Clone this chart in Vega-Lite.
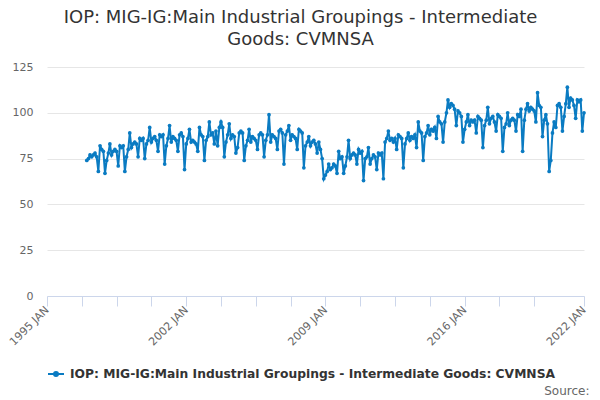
{
  "$schema": "https://vega.github.io/schema/vega-lite/v6.json",
  "width": 537,
  "height": 229,
  "autosize": "none",
  "padding": {"left": 47, "top": 67, "right": 16, "bottom": 104},
  "background": "white",
  "title": {
    "text": ["IOP: MIG-IG:Main Industrial Groupings - Intermediate", "Goods: CVMNSA"],
    "anchor": "middle",
    "dx": -15,
    "offset": 12,
    "fontSize": 18,
    "fontWeight": "normal",
    "color": "#333333",
    "lineHeight": 22
  },
  "data": {
    "values": [
      {"d": "1997-01", "v": 74}, {"d": "1997-02", "v": 75}, {"d": "1997-03", "v": 77}, {"d": "1997-04", "v": 76}, {"d": "1997-05", "v": 77}, {"d": "1997-06", "v": 78}, {"d": "1997-07", "v": 76}, {"d": "1997-08", "v": 68}, {"d": "1997-09", "v": 82}, {"d": "1997-10", "v": 80}, {"d": "1997-11", "v": 79}, {"d": "1997-12", "v": 67},
      {"d": "1998-01", "v": 74}, {"d": "1998-02", "v": 78}, {"d": "1998-03", "v": 83}, {"d": "1998-04", "v": 77}, {"d": "1998-05", "v": 79}, {"d": "1998-06", "v": 80}, {"d": "1998-07", "v": 79}, {"d": "1998-08", "v": 71}, {"d": "1998-09", "v": 82}, {"d": "1998-10", "v": 81}, {"d": "1998-11", "v": 82}, {"d": "1998-12", "v": 68},
      {"d": "1999-01", "v": 76}, {"d": "1999-02", "v": 80}, {"d": "1999-03", "v": 89}, {"d": "1999-04", "v": 81}, {"d": "1999-05", "v": 83}, {"d": "1999-06", "v": 84}, {"d": "1999-07", "v": 83}, {"d": "1999-08", "v": 76}, {"d": "1999-09", "v": 86}, {"d": "1999-10", "v": 85}, {"d": "1999-11", "v": 86}, {"d": "1999-12", "v": 75},
      {"d": "2000-01", "v": 83}, {"d": "2000-02", "v": 85}, {"d": "2000-03", "v": 92}, {"d": "2000-04", "v": 84}, {"d": "2000-05", "v": 86}, {"d": "2000-06", "v": 87}, {"d": "2000-07", "v": 85}, {"d": "2000-08", "v": 79}, {"d": "2000-09", "v": 88}, {"d": "2000-10", "v": 87}, {"d": "2000-11", "v": 88}, {"d": "2000-12", "v": 72},
      {"d": "2001-01", "v": 82}, {"d": "2001-02", "v": 86}, {"d": "2001-03", "v": 93}, {"d": "2001-04", "v": 84}, {"d": "2001-05", "v": 87}, {"d": "2001-06", "v": 86}, {"d": "2001-07", "v": 85}, {"d": "2001-08", "v": 79}, {"d": "2001-09", "v": 88}, {"d": "2001-10", "v": 89}, {"d": "2001-11", "v": 87}, {"d": "2001-12", "v": 69},
      {"d": "2002-01", "v": 83}, {"d": "2002-02", "v": 86}, {"d": "2002-03", "v": 91}, {"d": "2002-04", "v": 84}, {"d": "2002-05", "v": 85}, {"d": "2002-06", "v": 84}, {"d": "2002-07", "v": 83}, {"d": "2002-08", "v": 79}, {"d": "2002-09", "v": 92}, {"d": "2002-10", "v": 88}, {"d": "2002-11", "v": 87}, {"d": "2002-12", "v": 74},
      {"d": "2003-01", "v": 85}, {"d": "2003-02", "v": 87}, {"d": "2003-03", "v": 95}, {"d": "2003-04", "v": 88}, {"d": "2003-05", "v": 89}, {"d": "2003-06", "v": 83}, {"d": "2003-07", "v": 90}, {"d": "2003-08", "v": 82}, {"d": "2003-09", "v": 92}, {"d": "2003-10", "v": 95}, {"d": "2003-11", "v": 92}, {"d": "2003-12", "v": 76},
      {"d": "2004-01", "v": 84}, {"d": "2004-02", "v": 88}, {"d": "2004-03", "v": 94}, {"d": "2004-04", "v": 86}, {"d": "2004-05", "v": 88}, {"d": "2004-06", "v": 87}, {"d": "2004-07", "v": 78}, {"d": "2004-08", "v": 81}, {"d": "2004-09", "v": 89}, {"d": "2004-10", "v": 90}, {"d": "2004-11", "v": 89}, {"d": "2004-12", "v": 74},
      {"d": "2005-01", "v": 82}, {"d": "2005-02", "v": 85}, {"d": "2005-03", "v": 91}, {"d": "2005-04", "v": 84}, {"d": "2005-05", "v": 87}, {"d": "2005-06", "v": 86}, {"d": "2005-07", "v": 85}, {"d": "2005-08", "v": 80}, {"d": "2005-09", "v": 88}, {"d": "2005-10", "v": 89}, {"d": "2005-11", "v": 88}, {"d": "2005-12", "v": 76},
      {"d": "2006-01", "v": 85}, {"d": "2006-02", "v": 88}, {"d": "2006-03", "v": 99}, {"d": "2006-04", "v": 84}, {"d": "2006-05", "v": 88}, {"d": "2006-06", "v": 87}, {"d": "2006-07", "v": 86}, {"d": "2006-08", "v": 80}, {"d": "2006-09", "v": 90}, {"d": "2006-10", "v": 91}, {"d": "2006-11", "v": 89}, {"d": "2006-12", "v": 72},
      {"d": "2007-01", "v": 88}, {"d": "2007-02", "v": 90}, {"d": "2007-03", "v": 93}, {"d": "2007-04", "v": 85}, {"d": "2007-05", "v": 88}, {"d": "2007-06", "v": 87}, {"d": "2007-07", "v": 86}, {"d": "2007-08", "v": 80}, {"d": "2007-09", "v": 91}, {"d": "2007-10", "v": 90}, {"d": "2007-11", "v": 89}, {"d": "2007-12", "v": 70},
      {"d": "2008-01", "v": 82}, {"d": "2008-02", "v": 84}, {"d": "2008-03", "v": 87}, {"d": "2008-04", "v": 82}, {"d": "2008-05", "v": 84}, {"d": "2008-06", "v": 85}, {"d": "2008-07", "v": 83}, {"d": "2008-08", "v": 78}, {"d": "2008-09", "v": 84}, {"d": "2008-10", "v": 80}, {"d": "2008-11", "v": 75}, {"d": "2008-12", "v": 64},
      {"d": "2009-01", "v": 66}, {"d": "2009-02", "v": 68}, {"d": "2009-03", "v": 72}, {"d": "2009-04", "v": 69}, {"d": "2009-05", "v": 70}, {"d": "2009-06", "v": 72}, {"d": "2009-07", "v": 71}, {"d": "2009-08", "v": 67}, {"d": "2009-09", "v": 79}, {"d": "2009-10", "v": 75}, {"d": "2009-11", "v": 76}, {"d": "2009-12", "v": 67},
      {"d": "2010-01", "v": 71}, {"d": "2010-02", "v": 76}, {"d": "2010-03", "v": 85}, {"d": "2010-04", "v": 75}, {"d": "2010-05", "v": 77}, {"d": "2010-06", "v": 78}, {"d": "2010-07", "v": 77}, {"d": "2010-08", "v": 72}, {"d": "2010-09", "v": 80}, {"d": "2010-10", "v": 78}, {"d": "2010-11", "v": 79}, {"d": "2010-12", "v": 63},
      {"d": "2011-01", "v": 75}, {"d": "2011-02", "v": 76}, {"d": "2011-03", "v": 81}, {"d": "2011-04", "v": 72}, {"d": "2011-05", "v": 75}, {"d": "2011-06", "v": 77}, {"d": "2011-07", "v": 76}, {"d": "2011-08", "v": 69}, {"d": "2011-09", "v": 78}, {"d": "2011-10", "v": 77}, {"d": "2011-11", "v": 78}, {"d": "2011-12", "v": 64},
      {"d": "2012-01", "v": 84}, {"d": "2012-02", "v": 86}, {"d": "2012-03", "v": 90}, {"d": "2012-04", "v": 85}, {"d": "2012-05", "v": 86}, {"d": "2012-06", "v": 84}, {"d": "2012-07", "v": 86}, {"d": "2012-08", "v": 80}, {"d": "2012-09", "v": 88}, {"d": "2012-10", "v": 87}, {"d": "2012-11", "v": 86}, {"d": "2012-12", "v": 70},
      {"d": "2013-01", "v": 83}, {"d": "2013-02", "v": 86}, {"d": "2013-03", "v": 89}, {"d": "2013-04", "v": 85}, {"d": "2013-05", "v": 87}, {"d": "2013-06", "v": 86}, {"d": "2013-07", "v": 88}, {"d": "2013-08", "v": 81}, {"d": "2013-09", "v": 95}, {"d": "2013-10", "v": 90}, {"d": "2013-11", "v": 89}, {"d": "2013-12", "v": 74},
      {"d": "2014-01", "v": 87}, {"d": "2014-02", "v": 89}, {"d": "2014-03", "v": 93}, {"d": "2014-04", "v": 88}, {"d": "2014-05", "v": 91}, {"d": "2014-06", "v": 90}, {"d": "2014-07", "v": 92}, {"d": "2014-08", "v": 86}, {"d": "2014-09", "v": 98}, {"d": "2014-10", "v": 95}, {"d": "2014-11", "v": 94}, {"d": "2014-12", "v": 84},
      {"d": "2015-01", "v": 95}, {"d": "2015-02", "v": 100}, {"d": "2015-03", "v": 107}, {"d": "2015-04", "v": 103}, {"d": "2015-05", "v": 105}, {"d": "2015-06", "v": 104}, {"d": "2015-07", "v": 102}, {"d": "2015-08", "v": 93}, {"d": "2015-09", "v": 101}, {"d": "2015-10", "v": 100}, {"d": "2015-11", "v": 98}, {"d": "2015-12", "v": 84},
      {"d": "2016-01", "v": 91}, {"d": "2016-02", "v": 95}, {"d": "2016-03", "v": 99}, {"d": "2016-04", "v": 93}, {"d": "2016-05", "v": 96}, {"d": "2016-06", "v": 95}, {"d": "2016-07", "v": 96}, {"d": "2016-08", "v": 89}, {"d": "2016-09", "v": 98}, {"d": "2016-10", "v": 97}, {"d": "2016-11", "v": 96}, {"d": "2016-12", "v": 81},
      {"d": "2017-01", "v": 93}, {"d": "2017-02", "v": 96}, {"d": "2017-03", "v": 103}, {"d": "2017-04", "v": 94}, {"d": "2017-05", "v": 97}, {"d": "2017-06", "v": 98}, {"d": "2017-07", "v": 95}, {"d": "2017-08", "v": 90}, {"d": "2017-09", "v": 99}, {"d": "2017-10", "v": 98}, {"d": "2017-11", "v": 97}, {"d": "2017-12", "v": 79},
      {"d": "2018-01", "v": 92}, {"d": "2018-02", "v": 94}, {"d": "2018-03", "v": 100}, {"d": "2018-04", "v": 93}, {"d": "2018-05", "v": 96}, {"d": "2018-06", "v": 97}, {"d": "2018-07", "v": 96}, {"d": "2018-08", "v": 90}, {"d": "2018-09", "v": 99}, {"d": "2018-10", "v": 98}, {"d": "2018-11", "v": 102}, {"d": "2018-12", "v": 79},
      {"d": "2019-01", "v": 96}, {"d": "2019-02", "v": 102}, {"d": "2019-03", "v": 105}, {"d": "2019-04", "v": 101}, {"d": "2019-05", "v": 103}, {"d": "2019-06", "v": 102}, {"d": "2019-07", "v": 101}, {"d": "2019-08", "v": 95}, {"d": "2019-09", "v": 111}, {"d": "2019-10", "v": 104}, {"d": "2019-11", "v": 103}, {"d": "2019-12", "v": 87},
      {"d": "2020-01", "v": 96}, {"d": "2020-02", "v": 99}, {"d": "2020-03", "v": 94}, {"d": "2020-04", "v": 68}, {"d": "2020-05", "v": 74}, {"d": "2020-06", "v": 89}, {"d": "2020-07", "v": 95}, {"d": "2020-08", "v": 92}, {"d": "2020-09", "v": 104}, {"d": "2020-10", "v": 105}, {"d": "2020-11", "v": 103}, {"d": "2020-12", "v": 90},
      {"d": "2021-01", "v": 98}, {"d": "2021-02", "v": 105}, {"d": "2021-03", "v": 114}, {"d": "2021-04", "v": 103}, {"d": "2021-05", "v": 108}, {"d": "2021-06", "v": 107}, {"d": "2021-07", "v": 104}, {"d": "2021-08", "v": 97}, {"d": "2021-09", "v": 107}, {"d": "2021-10", "v": 106}, {"d": "2021-11", "v": 107}, {"d": "2021-12", "v": 90},
      {"d": "2022-01", "v": 100}
    ]
  },
  "mark": {"type": "line", "strokeWidth": 2, "point": {"filled": true, "size": 14}},
  "encoding": {
    "x": {
      "field": "d",
      "type": "temporal",
      "scale": {
        "type": "utc",
        "domain": [
          {"year": 1995, "month": 1, "date": 1, "utc": true},
          {"year": 2022, "month": 1, "date": 1, "utc": true}
        ]
      },
      "axis": {
        "title": "Source:",
        "titleAnchor": "end",
        "titleAlign": "right",
        "titleX": 542,
        "titleY": 98,
        "titleBaseline": "alphabetic",
        "titleFontWeight": "normal",
        "titleFontSize": 12,
        "titleColor": "#666666",
        "values": [
          {"year": 1995, "month": 1, "date": 1, "utc": true},
          {"year": 1996, "month": 10, "date": 1, "utc": true},
          {"year": 1998, "month": 7, "date": 1, "utc": true},
          {"year": 2000, "month": 4, "date": 1, "utc": true},
          {"year": 2002, "month": 1, "date": 1, "utc": true},
          {"year": 2003, "month": 10, "date": 1, "utc": true},
          {"year": 2005, "month": 7, "date": 1, "utc": true},
          {"year": 2007, "month": 4, "date": 1, "utc": true},
          {"year": 2009, "month": 1, "date": 1, "utc": true},
          {"year": 2010, "month": 10, "date": 1, "utc": true},
          {"year": 2012, "month": 7, "date": 1, "utc": true},
          {"year": 2014, "month": 4, "date": 1, "utc": true},
          {"year": 2016, "month": 1, "date": 1, "utc": true},
          {"year": 2017, "month": 10, "date": 1, "utc": true},
          {"year": 2019, "month": 7, "date": 1, "utc": true},
          {"year": 2022, "month": 1, "date": 1, "utc": true}
        ],
        "labelExpr": "utcmonth(datum.value) == 0 ? utcFormat(datum.value, '%Y') + ' JAN' : ''",
        "labelAngle": -45,
        "labelAlign": "right",
        "labelBaseline": "middle",
        "labelFontSize": 11,
        "labelColor": "#666666",
        "labelPadding": 2,
        "labelOverlap": false,
        "labelFlush": false,
        "labelBound": false,
        "tickSize": 10,
        "tickColor": "#ccd6eb",
        "domainColor": "#ccd6eb",
        "grid": false
      }
    },
    "y": {
      "field": "v",
      "type": "quantitative",
      "scale": {"domain": [0, 125]},
      "axis": {
        "title": null,
        "values": [0, 25, 50, 75, 100, 125],
        "domain": false,
        "ticks": false,
        "gridColor": "#e6e6e6",
        "labelColor": "#666666",
        "labelFontSize": 11,
        "labelPadding": 14
      }
    },
    "color": {
      "datum": "IOP: MIG-IG:Main Industrial Groupings - Intermediate Goods: CVMNSA",
      "scale": {"range": ["#0a7bc2"]},
      "legend": {
        "title": null,
        "orient": "none",
        "legendX": 0,
        "legendY": 298,
        "padding": 0,
        "symbolType": "M-1,0H1M-0.25,0A0.25,0.25,0,1,0,0.25,0A0.25,0.25,0,1,0,-0.25,0",
        "symbolSize": 256,
        "symbolStrokeWidth": 2,
        "symbolFillColor": "#0a7bc2",
        "labelFontSize": 12.3,
        "labelFontWeight": "bold",
        "labelColor": "#333333",
        "labelLimit": 600,
        "labelOffset": 5
      }
    }
  },
  "config": {"view": {"stroke": null}, "font": "DejaVu Sans"}
}
